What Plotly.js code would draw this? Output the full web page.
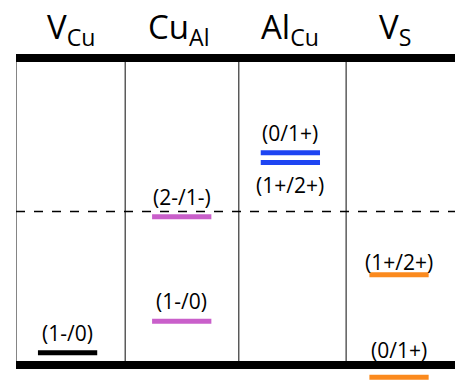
<!DOCTYPE html>
<html>
<head>
<meta charset="utf-8">
<script src="https://cdn.plot.ly/plotly-3.0.1.min.js"></script>
<style>html,body{margin:0;padding:0;background:#fff;}#chart{width:455px;height:381px;}</style>
</head>
<body>
<div id="chart"></div>
<script>
// Defect columns
const defects = ["V<sub>Cu</sub>", "Cu<sub>Al</sub>", "Al<sub>Cu</sub>", "V<sub>S</sub>"];
// Band edges (eV): VBM = 0, CBM = gap
const vbm = 0;
const cbm = 3.5;
const midgap = 1.75;
// Transition levels (eV above VBM)
const levelDefectIndex = [0, 1, 1, 2, 2, 3, 3];
const levelEnergy = [0.14, 0.50, 1.69, 2.42, 2.31, 1.03, -0.14];
const levelLabel = ["(1-/0)", "(1-/0)", "(2-/1-)", "(0/1+)", "(1+/2+)", "(1+/2+)", "(0/1+)"];
const levelLabelSide = ["above", "above", "above", "above", "below", "above", "above"];
const defectColors = ["#000000", "#c95fca", "#1e45f2", "#fb8a1e"];

const traces = [];
const annotations = [];
const halfW = 0.27;
const centers = [0.47, 1.51, 2.5, 3.49];
const dividers = [0, 0.995, 2.03, 3.008];
for (let i = 0; i < levelEnergy.length; i++) {
  const c = centers[levelDefectIndex[i]];
  traces.push({
    x: [c - halfW, c + halfW], y: [levelEnergy[i], levelEnergy[i]],
    mode: "lines", line: {color: defectColors[levelDefectIndex[i]], width: 5},
    hoverinfo: "skip", showlegend: false, type: "scatter"
  });
  let shift = levelLabelSide[i] === "above" ? 20 : -23;
  if (i === 5) shift = 13;
  if (i === 6) shift = 27;
  annotations.push({
    x: c, y: levelEnergy[i], xref: "x", yref: "y", text: levelLabel[i],
    xanchor: "center", yanchor: "middle",
    showarrow: false, yshift: shift, font: {family: "Open Sans, sans-serif", size: 21, color: "#000"}
  });
}
const headerX = [0.5, 1.48, 2.5, 3.45];
for (let j = 0; j < defects.length; j++) {
  annotations.push({
    x: headerX[j], y: 0.925, xref: "x", yref: "paper", text: defects[j],
    xanchor: "center", yanchor: "middle",
    showarrow: false, font: {family: "Open Sans, sans-serif", size: 33, color: "#000"}
  });
}

const shapes = [];
// thin column dividers
for (let j = 0; j < dividers.length; j++) {
  shapes.push({type: "line", xref: "x", yref: "y", x0: dividers[j], x1: dividers[j], y0: vbm, y1: cbm,
    line: {color: "#333", width: 1.2}});
}
// mid-gap dashed line
shapes.push({type: "line", xref: "x", yref: "y", x0: 0, x1: 4.05, y0: midgap, y1: midgap,
  line: {color: "#000", width: 1.5, dash: "dash"}});
// band edges
shapes.push({type: "line", xref: "x", yref: "y", x0: 0, x1: 4.05, y0: cbm, y1: cbm,
  line: {color: "#000", width: 8}});
shapes.push({type: "line", xref: "x", yref: "y", x0: 0, x1: 4.05, y0: vbm, y1: vbm,
  line: {color: "#000", width: 8}});

const layout = {
  width: 455, height: 381,
  margin: {l: 16, r: 0, t: 0, b: 0},
  paper_bgcolor: "#fff", plot_bgcolor: "#fff",
  xaxis: {range: [0, 4], visible: false, fixedrange: true},
  yaxis: {range: [-0.182, 4.162], visible: false, fixedrange: true},
  shapes: shapes, annotations: annotations, showlegend: false
};
Plotly.newPlot("chart", traces, layout, {staticPlot: true, displayModeBar: false});
</script>
</body>
</html>
